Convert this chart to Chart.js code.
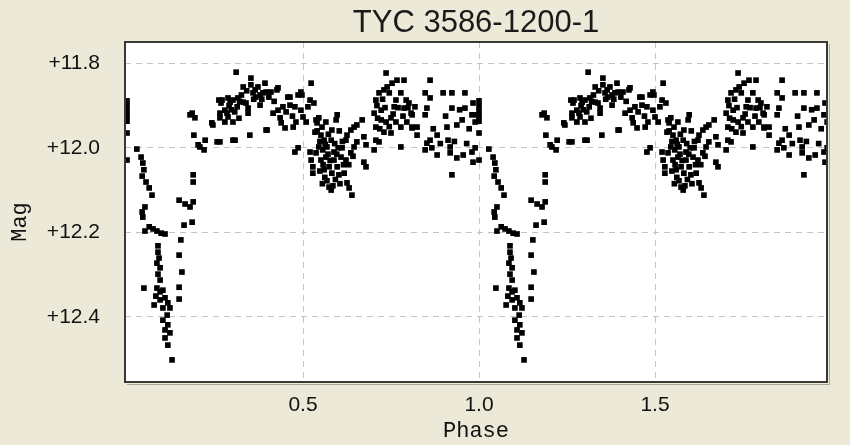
<!DOCTYPE html>
<html>
<head>
<meta charset="utf-8">
<script src="https://cdn.jsdelivr.net/npm/chart.js@4.4.1/dist/chart.umd.min.js"></script>
<style>
  html, body { margin: 0; padding: 0; background: #ECE9D8; }
  #wrap { width: 850px; height: 445px; }
</style>
</head>
<body>
<div id="wrap"><canvas id="c" width="850" height="445"></canvas></div>
<script>
// ---- Text ----
const chartTitle = 'TYC 3586-1200-1';
const xAxisTitle = 'Phase';
const yAxisTitle = 'Mag';

// ---- Tick labels ----
const xTickValues = [0.5, 1.0, 1.5];
const xTickLabels = ['0.5', '1.0', '1.5'];
const yTickValues = [11.8, 12.0, 12.2, 12.4];
const yTickLabels = ['+11.8', '+12.0', '+12.2', '+12.4'];

// ---- Observations (phase-folded, one cycle; plotted for cycles 0 and 1) ----
const phase = [
  0.000,0.000,0.000,0.000,0.000,0.000,0.000,0.028,0.040,0.045,0.048,0.043,0.054,0.063,0.071,0.051,0.043,0.045,
  0.051,0.063,0.074,0.085,0.097,0.108,0.088,0.088,0.091,0.085,0.094,0.088,0.094,0.048,0.085,0.094,0.102,0.082,
  0.094,0.108,0.116,0.122,0.077,0.102,0.114,0.102,0.116,0.108,0.122,0.108,0.116,0.128,
  0.148,0.148,0.156,0.148,0.153,0.162,0.185,0.165,0.179,0.188,0.148,0.188,0.188,0.207,0.219,0.202,0.190,0.185,
  0.193,0.179,0.222,0.241,0.256,0.261,0.270,0.307,0.349,0.398,0.264,0.244,
  0.310,0.352,0.330,0.352,0.364,0.372,0.392,0.395,0.386,0.409,0.429,0.378,0.366,0.287,0.301,0.315,0.330,0.338,
  0.344,0.344,0.267,0.278,0.287,0.301,0.278,0.264,0.378,0.415,0.429,0.443,0.463,0.477,0.457,0.486,0.494,0.435,
  0.438,0.449,0.472,0.480,0.500,0.509,0.494,0.514,0.520,0.523,0.537,0.534,0.395,0.301,0.264,0.463,0.497,0.426,
  0.293,0.313,0.284,
  0.290,0.296,0.320,0.325,0.340,0.358,0.360,0.383,0.403,0.418,0.452,0.470,0.306,0.318,
  0.486,0.477,0.520,0.523,0.528,0.528,0.531,0.545,0.540,0.554,0.565,0.551,0.560,0.545,0.537,0.551,0.565,0.568,
  0.580,0.582,0.594,0.597,0.588,0.588,0.574,0.560,0.582,0.597,0.608,0.602,0.574,0.580,0.625,0.631,0.639,0.611,
  0.622,0.625,0.636,0.645,0.653,0.668,0.622,0.636,0.645,0.653,0.673,0.679,0.673,0.679,
  0.557,0.571,0.600,0.615,0.592,0.562,0.605,0.548,0.617,0.585,
  0.540,0.548,0.556,0.563,0.572,0.577,0.590,0.596,0.603,0.612,0.630,0.642,0.555,0.568,
  0.702,0.707,0.707,0.702,0.707,0.716,0.730,0.739,0.736,0.753,0.767,0.787,0.778,0.793,0.764,0.759,0.787,0.722,
  0.722,0.736,0.750,0.764,0.778,0.795,0.807,0.810,0.730,0.750,0.778,0.716,0.801,
  0.710,0.712,0.718,0.726,0.733,0.745,0.756,0.770,0.784,0.798,0.745,
  0.861,0.847,0.861,0.898,0.923,0.960,0.818,0.852,0.847,0.810,0.824,0.810,0.824,0.923,0.960,0.983,0.980,0.994,
  0.989,0.937,0.909,0.952,
  0.881,0.861,0.852,0.866,0.847,0.881,0.912,0.918,0.918,0.937,0.955,0.980,0.983,0.989,0.923,
  0.870,0.890,0.905,0.930,0.945,0.965,0.972
];
const mag = [
  11.889,11.901,11.913,11.925,11.937,11.965,12.029,12.003,12.022,12.036,12.052,12.067,12.081,12.095,12.112,12.140,12.152,12.164,
  12.197,12.187,12.192,12.197,12.202,12.204,12.232,12.247,12.261,12.273,12.284,12.299,12.313,12.332,12.332,12.341,12.337,12.351,
  12.360,12.355,12.367,12.379,12.372,12.379,12.396,12.408,12.419,12.431,12.438,12.450,12.467,12.502,
  12.358,12.330,12.294,12.254,12.218,12.183,12.176,12.133,12.140,12.128,12.124,12.081,12.064,11.998,12.005,11.993,11.970,11.918,
  11.929,11.922,11.982,11.941,11.986,11.887,11.887,11.982,11.970,11.958,11.929,11.946,
  11.821,11.835,11.856,11.851,11.863,11.856,11.847,11.868,11.870,11.868,11.858,11.875,11.880,11.882,11.887,11.882,11.892,11.894,
  11.906,11.918,11.894,11.911,11.927,11.939,11.939,11.918,11.899,11.918,11.911,11.903,11.899,11.903,11.880,11.875,11.868,11.929,
  11.941,11.953,11.951,11.939,11.927,11.939,11.911,11.903,11.887,11.847,11.934,11.963,11.958,11.982,11.986,11.880,11.875,11.863,
  11.892,11.903,11.918,
  11.900,11.910,11.890,11.875,11.865,11.870,11.885,11.885,11.880,11.890,11.915,11.925,11.915,11.930,
  12.000,12.010,12.010,12.029,12.045,12.060,11.894,11.929,11.941,11.951,11.939,11.970,11.982,11.998,12.012,12.029,12.022,11.998,
  11.982,11.958,11.934,11.922,12.010,12.029,12.045,12.052,12.060,12.045,12.022,12.064,12.093,12.100,12.083,12.095,12.112,12.000,
  11.982,11.970,11.958,11.951,11.946,11.934,12.029,12.012,11.998,11.986,11.974,11.993,12.034,12.045,
  12.040,12.015,12.000,12.040,12.075,12.070,12.085,12.055,12.060,12.090,
  11.960,11.985,12.005,11.992,11.968,12.030,11.990,12.015,11.960,11.985,12.040,12.020,12.085,12.078,
  12.005,11.982,11.951,11.918,11.887,11.870,11.863,11.856,11.823,11.847,11.840,11.840,11.870,11.887,11.887,11.903,11.906,11.911,
  11.934,11.939,11.929,11.939,11.951,11.939,11.918,11.951,11.963,11.965,11.998,11.986,11.894,
  11.900,11.930,11.955,11.885,11.905,11.870,11.920,11.905,11.925,11.905,11.950,
  11.840,11.870,11.882,11.870,11.870,11.870,11.903,11.906,11.922,11.922,11.951,11.953,11.970,11.906,11.906,11.894,11.922,11.922,
  11.939,11.946,11.951,11.934,
  11.970,11.982,11.989,12.000,12.005,12.017,11.982,11.998,12.012,12.024,12.017,12.010,12.034,12.000,12.064,
  11.955,11.990,11.925,11.985,11.910,11.990,11.955
];
const cycles = [0, 1];

// Build scatter points through the library's scales
const points = [];
cycles.forEach(c => {
  phase.forEach((p, i) => points.push({ x: p + c, y: mag[i] }));
});

const labelFor = (values, labels) => (v) => {
  const i = values.findIndex(t => Math.abs(t - v) < 1e-9);
  return i >= 0 ? labels[i] : '';
};

const framePlugin = {
  id: 'frame',
  beforeDraw(chart) {
    const { ctx, chartArea: a } = chart;
    ctx.save();
    ctx.fillStyle = '#ECE9D8';
    ctx.fillRect(0, 0, chart.width, chart.height);
    ctx.fillStyle = '#FFFFFF';
    ctx.fillRect(a.left, a.top, a.right - a.left, a.bottom - a.top);
    ctx.restore();
  },
  afterDraw(chart) {
    const { ctx, chartArea: a } = chart;
    ctx.save();
    // light shadow
    ctx.strokeStyle = '#A8A8A0';
    ctx.lineWidth = 1;
    ctx.beginPath();
    ctx.moveTo(a.right + 2.5, a.top + 2);
    ctx.lineTo(a.right + 2.5, a.bottom + 2.5);
    ctx.lineTo(a.left + 2, a.bottom + 2.5);
    ctx.stroke();
    // frame
    ctx.strokeStyle = '#383838';
    ctx.lineWidth = 2;
    ctx.strokeRect(a.left, a.top, a.right - a.left, a.bottom - a.top);
    // y axis title
    ctx.translate(20, 222);
    ctx.rotate(-Math.PI / 2);
    ctx.fillStyle = '#111';
    ctx.font = '22px "Liberation Mono", "DejaVu Sans Mono", monospace';
    ctx.textAlign = 'center';
    ctx.textBaseline = 'middle';
    ctx.fillText(yAxisTitle, 0, 0);
    ctx.restore();
  }
};

new Chart(document.getElementById('c'), {
  type: 'scatter',
  data: {
    datasets: [{
      data: points,
      pointStyle: 'rect',
      pointRadius: 4,
      pointHoverRadius: 4,
      pointBorderWidth: 0,
      backgroundColor: '#000',
      borderColor: '#000'
    }]
  },
  options: {
    responsive: false,
    animation: false,
    devicePixelRatio: 1,
    layout: { padding: { left: 0, right: 23, top: 0, bottom: 0 } },
    plugins: {
      legend: { display: false },
      tooltip: { enabled: false },
      title: {
        display: true,
        text: chartTitle,
        fullSize: false,
        color: '#1a1a1a',
        font: { family: '"Liberation Sans", Arial, sans-serif', size: 31, weight: 'normal', lineHeight: 1 },
        padding: { top: 8, bottom: 3 }
      }
    },
    scales: {
      x: {
        type: 'linear',
        min: -0.0057,
        max: 1.9886,
        afterBuildTicks: s => { s.ticks = xTickValues.map(v => ({ value: v })); },
        afterFit: s => { s.height = 63; },
        ticks: {
          callback: labelFor(xTickValues, xTickLabels),
          color: '#111',
          font: { family: '"Liberation Sans", Arial, sans-serif', size: 21 },
          padding: 11,
          maxRotation: 0,
          autoSkip: false
        },
        grid: { color: '#C4C4C4', lineWidth: 1, drawTicks: false },
        border: { display: false, dash: [6, 5] },
        title: {
          display: true,
          text: xAxisTitle,
          color: '#111',
          font: { family: '"Liberation Mono", "DejaVu Sans Mono", monospace', size: 22, lineHeight: 1 },
          padding: { top: 0, bottom: 3 }
        }
      },
      y: {
        type: 'linear',
        reverse: true,
        min: 11.7496,
        max: 12.5543,
        afterBuildTicks: s => { s.ticks = yTickValues.map(v => ({ value: v })); },
        afterFit: s => { s.width = 125; },
        ticks: {
          callback: labelFor(yTickValues, yTickLabels),
          color: '#111',
          font: { family: '"Liberation Sans", Arial, sans-serif', size: 21 },
          padding: 25,
          autoSkip: false
        },
        grid: { color: '#C4C4C4', lineWidth: 1, drawTicks: false },
        border: { display: false, dash: [6, 5] },
        title: { display: false }
      }
    }
  },
  plugins: [framePlugin]
});
</script>
</body>
</html>
